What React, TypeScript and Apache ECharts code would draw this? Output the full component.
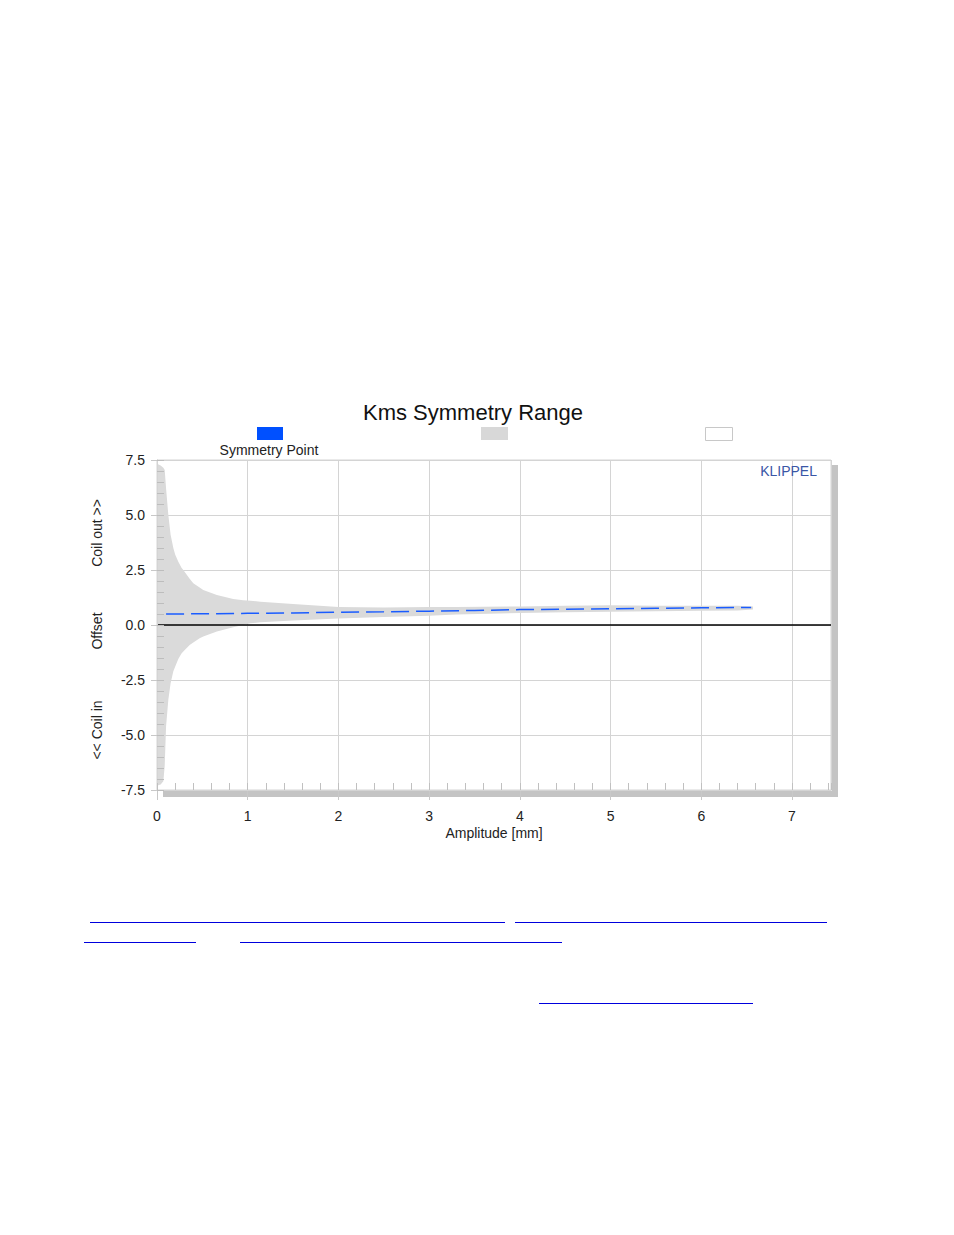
import React, { useEffect, useRef } from "react";
import * as echarts from "echarts";

// Gray symmetry range band (upper / lower boundary) vs amplitude
const bandX = [0.005, 0.04, 0.07, 0.085, 0.1, 0.125, 0.15, 0.18, 0.2, 0.235, 0.27, 0.29, 0.36, 0.4, 0.47, 0.51, 0.66, 0.84, 0.95, 1.03, 1.14, 1.5, 2.0, 2.5, 3.0, 3.3, 4.0, 4.5, 5.0, 5.5, 6.0, 6.4, 6.57];
const bandUpper = [7.32, 7.25, 7.15, 7.05, 6.2, 5.0, 4.1, 3.5, 3.2, 2.88, 2.6, 2.5, 2.1, 1.9, 1.7, 1.59, 1.36, 1.18, 1.12, 1.1, 1.06, 0.95, 0.82, 0.8, 0.82, 0.82, 0.84, 0.88, 0.9, 0.88, 0.87, 0.87, 0.84];
const bandLower = [-7.3, -7.25, -7.1, -6.4, -4.6, -3.4, -2.65, -2.1, -1.9, -1.55, -1.29, -1.2, -0.91, -0.8, -0.6, -0.52, -0.3, -0.1, 0.0, 0.08, 0.12, 0.2, 0.3, 0.36, 0.42, 0.48, 0.55, 0.58, 0.6, 0.62, 0.65, 0.66, 0.7];

// Symmetry point vs amplitude
const symX = [0.1, 0.5, 1.0, 1.5, 2.0, 2.5, 3.0, 3.5, 4.0, 4.5, 5.0, 5.5, 6.0, 6.55];
const symY = [0.5, 0.51, 0.53, 0.55, 0.58, 0.6, 0.63, 0.66, 0.7, 0.72, 0.74, 0.76, 0.78, 0.8];

const xTicks = [0, 1, 2, 3, 4, 5, 6, 7];
const yTicks = [-7.5, -5.0, -2.5, 0.0, 2.5, 5.0, 7.5];

const FONT = "'Liberation Sans', Arial, sans-serif";
const FS = 14;

export default function App() {
  const ref = useRef<HTMLDivElement>(null);
  useEffect(() => {
    if (!ref.current) return;
    const chart = echarts.init(ref.current, null, { renderer: "svg" });
    const bandData = bandX.map((x, i) => [x, bandLower[i], bandUpper[i]]);
    const symData = symX.map((x, i) => [x, symY[i]]);
    const gx = 157, gy = 460, gw = 674, gh = 330;
    chart.setOption({
      animation: false,
      backgroundColor: "#ffffff",
      textStyle: { fontFamily: FONT },
      title: {
        text: "Kms Symmetry Range",
        left: 468,
        textAlign: "center",
        top: 396,
        textStyle: { fontFamily: FONT, fontSize: 22, fontWeight: "normal", color: "#111" },
      },
      grid: {
        left: gx, top: gy, width: gw, height: gh,
        show: true, borderColor: "#d4d4d4", borderWidth: 1,
      },
      xAxis: [
        {
          type: "value", min: 0, max: 7.43, interval: 1,
          name: "Amplitude [mm]", nameLocation: "middle", nameGap: 36,
          nameTextStyle: { fontFamily: FONT, fontSize: FS, color: "#222" },
          axisLine: { show: true, onZero: false, lineStyle: { color: "#d4d4d4" } },
          axisTick: { show: true, length: 10, lineStyle: { color: "#c8c8c8" } },
          axisLabel: {
            margin: 19, fontFamily: FONT, fontSize: FS, color: "#222", showMaxLabel: false,
            formatter: (v: number) => (xTicks.includes(v) ? String(v) : ""),
          },
          splitLine: { show: true, lineStyle: { color: "#d4d4d4", width: 1 } },
        },
        {
          type: "value", min: 0, max: 7.43, interval: 0.2, position: "bottom", z: 5,
          axisLine: { show: true, onZero: false, lineStyle: { color: "#d4d4d4" } },
          axisTick: { show: true, inside: true, length: 7, lineStyle: { color: "#c0c0c0" } },
          axisLabel: { show: false },
          splitLine: { show: false },
        },
      ],
      yAxis: [
        {
          type: "value", min: -7.5, max: 7.5, interval: 2.5,
          axisLine: { show: true, onZero: false, lineStyle: { color: "#d4d4d4" } },
          axisTick: { show: true, length: 6, lineStyle: { color: "#c8c8c8" } },
          axisLabel: {
            margin: 12, fontFamily: FONT, fontSize: FS, color: "#222",
            formatter: (v: number) => (yTicks.includes(v) ? v.toFixed(1) : ""),
          },
          splitLine: { show: true, lineStyle: { color: "#d4d4d4", width: 1 } },
        },
        {
          type: "value", min: -7.5, max: 7.5, interval: 0.5, position: "left", z: 5,
          axisLine: { show: true, onZero: false, lineStyle: { color: "#d4d4d4" } },
          axisTick: { show: true, inside: true, length: 7, lineStyle: { color: "#bdbdbd" } },
          axisLabel: { show: false },
          splitLine: { show: false },
        },
      ],
      series: [
        {
          name: "Symmetry Range", type: "custom", data: bandData,
          encode: { x: 0, y: [1, 2] }, silent: true, z: 2,
          renderItem: (params: any, api: any) => {
            if (params.dataIndex !== 0) return null;
            const pts: number[][] = [];
            for (let i = 0; i < bandX.length; i++) pts.push(api.coord([bandX[i], bandUpper[i]]));
            for (let i = bandX.length - 1; i >= 0; i--) pts.push(api.coord([bandX[i], bandLower[i]]));
            return { type: "polygon", shape: { points: pts }, style: { fill: "#dadada" } };
          },
        },
        {
          name: "Symmetry Point", type: "line", data: symData, showSymbol: false, symbol: "none",
          lineStyle: { color: "#1a5cff", width: 1.5, type: [18, 7] }, z: 4,
          markLine: {
            silent: true, symbol: "none", label: { show: false },
            lineStyle: { color: "#000", width: 1.5, type: "solid" },
            data: [{ yAxis: 0 }],
          },
        },
      ],
      graphic: [
        { type: "rect", z: -1, shape: { x: gx + gw + 1, y: gy + 5, width: 6, height: gh + 2 }, style: { fill: "#c4c4c4" } },
        { type: "rect", z: -1, shape: { x: gx + 6, y: gy + gh + 1, width: gw + 1, height: 6 }, style: { fill: "#c4c4c4" } },
        // legend
        { type: "rect", shape: { x: 257, y: 427, width: 26, height: 13 }, style: { fill: "#0050ff" } },
        { type: "rect", shape: { x: 481, y: 427, width: 27, height: 13 }, style: { fill: "#d8d8d8" } },
        { type: "rect", shape: { x: 705.5, y: 427.5, width: 27, height: 13 }, style: { fill: "#ffffff", stroke: "#c8c8c8", lineWidth: 1 } },
        { type: "text", x: 269, y: 450, style: { text: "Symmetry Point", font: `${FS}px ${FONT}`, fill: "#222", textAlign: "center", textVerticalAlign: "middle" } },
        { type: "text", x: 817, y: 471, z: 10, style: { text: "KLIPPEL", font: `${FS}px ${FONT}`, fill: "#3a56a6", textAlign: "right", textVerticalAlign: "middle" } },
        // y axis titles
        { type: "text", x: 97, y: 533, rotation: Math.PI / 2, style: { text: "Coil out >>", font: `${FS}px ${FONT}`, fill: "#222", textAlign: "center", textVerticalAlign: "middle" } },
        { type: "text", x: 97, y: 631, rotation: Math.PI / 2, style: { text: "Offset", font: `${FS}px ${FONT}`, fill: "#222", textAlign: "center", textVerticalAlign: "middle" } },
        { type: "text", x: 97, y: 730, rotation: Math.PI / 2, style: { text: "<< Coil in", font: `${FS}px ${FONT}`, fill: "#222", textAlign: "center", textVerticalAlign: "middle" } },
        // link underlines below chart
        { type: "line", shape: { x1: 90, y1: 922.5, x2: 505, y2: 922.5 }, style: { stroke: "#0000dd", lineWidth: 1 } },
        { type: "line", shape: { x1: 515, y1: 922.5, x2: 827, y2: 922.5 }, style: { stroke: "#0000dd", lineWidth: 1 } },
        { type: "line", shape: { x1: 84, y1: 942.5, x2: 196, y2: 942.5 }, style: { stroke: "#0000dd", lineWidth: 1 } },
        { type: "line", shape: { x1: 240, y1: 942.5, x2: 562, y2: 942.5 }, style: { stroke: "#0000dd", lineWidth: 1 } },
        { type: "line", shape: { x1: 539, y1: 1003.5, x2: 753, y2: 1003.5 }, style: { stroke: "#0000dd", lineWidth: 1 } },
      ],
    });
    return () => chart.dispose();
  }, []);
  return (
    <div
      ref={ref}
      style={{ position: "absolute", left: 0, top: 0, width: 954, height: 1235, background: "#fff" }}
    />
  );
}
